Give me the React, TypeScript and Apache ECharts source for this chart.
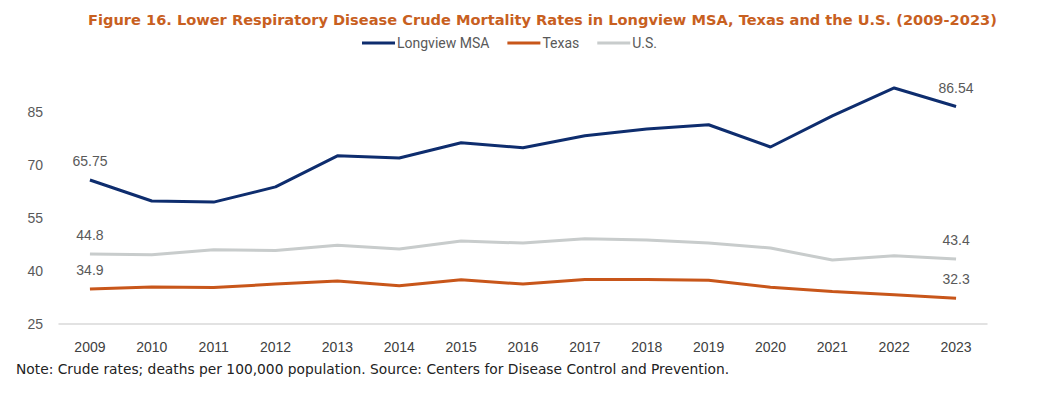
import React, { useEffect, useRef } from "react";
import * as echarts from "echarts";

const years = ["2009","2010","2011","2012","2013","2014","2015","2016","2017","2018","2019","2020","2021","2022","2023"];
const longview = [65.75, 59.8, 59.5, 63.8, 72.6, 72.0, 76.3, 74.9, 78.3, 80.2, 81.4, 75.1, 83.9, 91.8, 86.54];
const texas = [34.9, 35.5, 35.3, 36.3, 37.2, 35.8, 37.5, 36.3, 37.6, 37.6, 37.4, 35.4, 34.2, 33.3, 32.3];
const us = [44.8, 44.6, 46.0, 45.8, 47.3, 46.2, 48.5, 47.9, 49.1, 48.8, 47.9, 46.5, 43.1, 44.3, 43.4];

const titleText = "Figure 16. Lower Respiratory Disease Crude Mortality Rates in Longview MSA, Texas and the U.S. (2009-2023)";
const noteText = "Note: Crude rates; deaths per 100,000 population. Source: Centers for Disease Control and Prevention.";

const endLabel = (n: number) => ({
  show: true,
  position: "top" as const,
  distance: 12,
  color: "#595959",
  fontSize: 14,
  fontFamily: "Liberation Sans, Arial, sans-serif",
  formatter: (p: any) => (p.dataIndex === 0 || p.dataIndex === n - 1 ? String(p.value) : ""),
});

export default function App() {
  const ref = useRef<HTMLDivElement>(null);
  useEffect(() => {
    if (!ref.current) return;
    const chart = echarts.init(ref.current, undefined, { renderer: "svg" });
    const mk = (name: string, data: number[], color: string) => ({
      name,
      type: "line",
      data,
      symbol: "circle",
      symbolSize: 0,
      showSymbol: true,
      lineStyle: { color, width: 3 },
      itemStyle: { color },
      label: endLabel(data.length),
      labelLayout: { hideOverlap: false },
    });
    chart.setOption({
      animation: false,
      backgroundColor: "#ffffff",
      title: {
        text: titleText,
        left: 83,
        top: 7,
        textStyle: { color: "#C8601F", fontSize: 14.6, fontWeight: "bold", fontFamily: "DejaVu Sans, sans-serif" },
      },
      legend: {
        top: 31,
        left: 357,
        icon: "rect",
        itemWidth: 33,
        itemHeight: 3,
        itemGap: 18,
        textStyle: { color: "#595959", fontSize: 14, fontFamily: "Roboto, sans-serif", padding: [0, 0, 0, -3] },
        data: ["Longview MSA", "Texas", "U.S."],
      },
      grid: { left: 59, right: 52, top: 59, bottom: 69, containLabel: false },
      xAxis: {
        type: "category",
        data: years,
        boundaryGap: true,
        axisLine: { lineStyle: { color: "#D9D9D9", width: 1.5 } },
        axisTick: { show: false },
        axisLabel: { color: "#404040", fontSize: 14, margin: 16, fontFamily: "Liberation Sans, Arial, sans-serif" },
      },
      yAxis: {
        type: "value",
        min: 25,
        max: 100,
        interval: 15,
        splitLine: { show: false },
        axisLine: { show: false },
        axisTick: { show: false },
        axisLabel: {
          color: "#595959",
          fontSize: 14,
          margin: 16,
          showMaxLabel: false,
          fontFamily: "Liberation Sans, Arial, sans-serif",
        },
      },
      graphic: [
        {
          type: "text",
          left: 16,
          top: 362,
          style: { text: noteText, fill: "#222222", fontSize: 13.8, fontFamily: "DejaVu Sans, sans-serif" },
        },
      ],
      series: [
        mk("Longview MSA", longview, "#0E2D6E"),
        mk("Texas", texas, "#C8561A"),
        mk("U.S.", us, "#C8CCCC"),
      ],
    });
    return () => chart.dispose();
  }, []);
  return <div ref={ref} style={{ position: "fixed", left: 0, top: 0, width: 1039, height: 393 }} />;
}
